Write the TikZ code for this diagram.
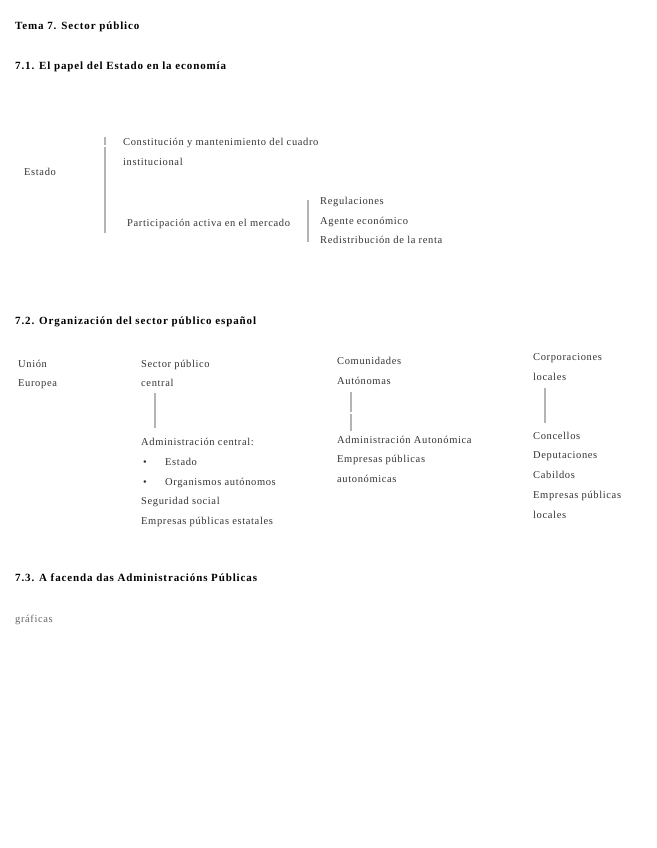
\documentclass[tikz,border=0pt]{standalone}
\usepackage{fontspec}
\setmainfont{Liberation Serif}
\usetikzlibrary{positioning}
\definecolor{barcol}{HTML}{B4B4B4}
\definecolor{txtcol}{HTML}{333333}

\begin{document}
\begin{tikzpicture}[x=1pt, y=-1pt,
    txt/.style={anchor=base west, inner sep=0pt, text=txtcol,
                font=\fontsize{10.5}{12}\selectfont\addfontfeatures{LetterSpace=6}},
    hd/.style={txt, text=black, font=\fontsize{11}{13}\selectfont\bfseries\addfontfeatures{LetterSpace=8}},
    bar/.style={draw=barcol, line width=1.6pt}]
    \useasboundingbox (0,0) rectangle (656,848);
    % 7.1
    \node[hd] (tema) at (15,30) {Tema 7. Sector público};
    \node[hd] (h71) at (15,70) {7.1. El papel del Estado en la economía};
    \node[txt] (estado) at (24,175) {Estado};
    \node[txt] (const) at (123,146) {Constitución y mantenimiento del cuadro};
    \node[txt] (inst) at (123,165) {institucional};
    \node[txt] (part) at (127,226) {Participación activa en el mercado};
    \node[txt] (regul) at (320,204) {Regulaciones};
    \node[txt] (agente) at (320,224) {Agente económico};
    \node[txt] (redis) at (320,243) {Redistribución de la renta};
    \coordinate (b1a) at (105,137);
    \coordinate (b1b) at (105,145);
    \coordinate (b1c) at (105,147);
    \coordinate (b1d) at (105,233);
    \coordinate (b2a) at (308,200);
    \coordinate (b2b) at (308,242);
    \draw[bar] (b1a) -- (b1b);
    \draw[bar] (b1c) -- (b1d);
    \draw[bar] (b2a) -- (b2b);
    % 7.2
    \node[hd] (h72) at (15,324) {7.2. Organización del sector público español};
    \node[txt] (union) at (18,367) {Unión};
    \node[txt] (europa) at (18,386) {Europea};
    \node[txt] (spc) at (141,367) {Sector público};
    \node[txt] (central) at (141,386) {central};
    \node[txt] (admc) at (141,445) {Administración central:};
    \node[txt] (bul1) at (143,465) {•};
    \node[txt] (estado2) at (165,465) {Estado};
    \node[txt] (bul2) at (143,485) {•};
    \node[txt] (orga) at (165,485) {Organismos autónomos};
    \node[txt] (segu) at (141,504) {Seguridad social};
    \node[txt] (epe) at (141,524) {Empresas públicas estatales};
    \node[txt] (comu) at (337,364) {Comunidades};
    \node[txt] (auto) at (337,384) {Autónomas};
    \node[txt] (adma) at (337,443) {Administración Autonómica};
    \node[txt] (epa) at (337,462) {Empresas públicas};
    \node[txt] (autn) at (337,482) {autonómicas};
    \node[txt] (corp) at (533,360) {Corporaciones};
    \node[txt] (loc) at (533,380) {locales};
    \node[txt] (conc) at (533,439) {Concellos};
    \node[txt] (depu) at (533,458) {Deputaciones};
    \node[txt] (cabi) at (533,478) {Cabildos};
    \node[txt] (epl) at (533,498) {Empresas públicas};
    \node[txt] (loc2) at (533,518) {locales};
    \coordinate (b3a) at (155,393);
    \coordinate (b3b) at (155,428);
    \coordinate (b4a) at (351,392);
    \coordinate (b4b) at (351,412);
    \coordinate (b4c) at (351,414);
    \coordinate (b4d) at (351,431);
    \coordinate (b5a) at (545,388);
    \coordinate (b5b) at (545,423);
    \draw[bar] (b3a) -- (b3b);
    \draw[bar] (b4a) -- (b4b);
    \draw[bar] (b4c) -- (b4d);
    \draw[bar] (b5a) -- (b5b);
    % 7.3
    \node[hd] (h73) at (15,581) {7.3. A facenda das Administracións Públicas};
    \node[txt, text=black!60] (graf) at (15,622) {gráficas};
\end{tikzpicture}
\end{document}
